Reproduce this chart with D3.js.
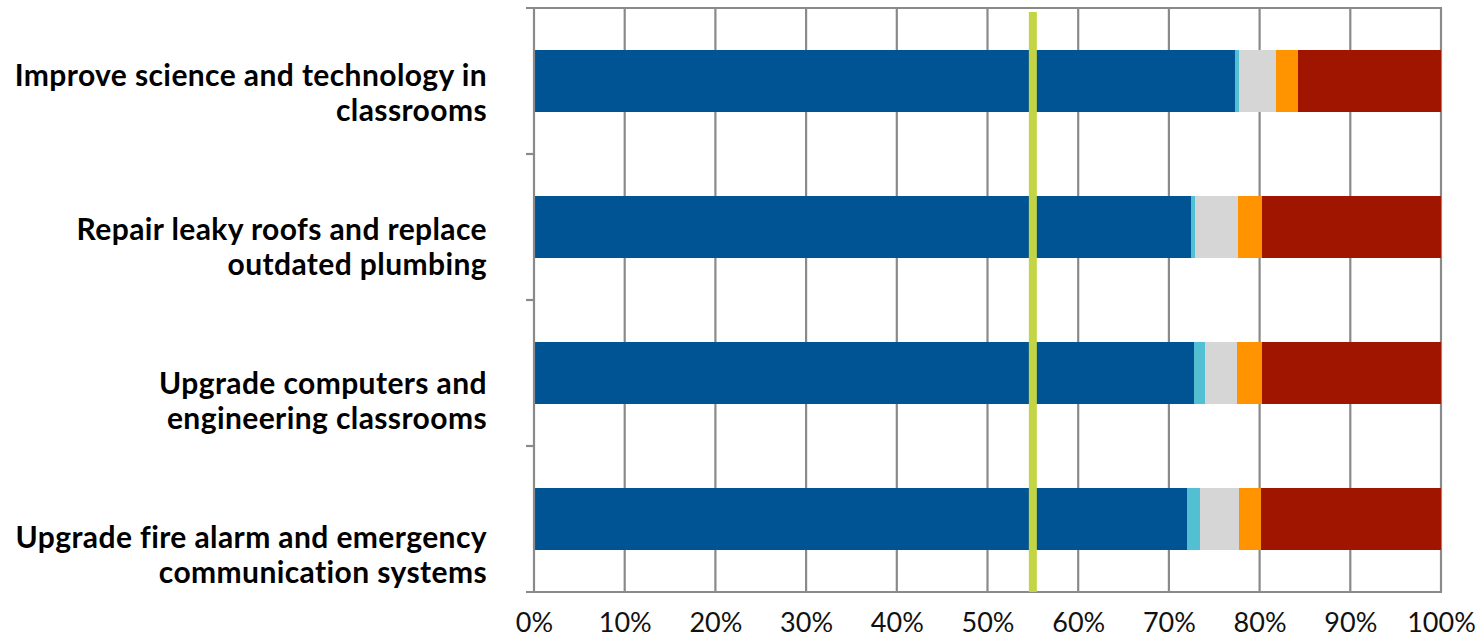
<!DOCTYPE html>
<html>
<head>
<meta charset="utf-8">
<script src="https://cdn.jsdelivr.net/npm/d3@7/dist/d3.min.js"></script>
<style>
html,body{margin:0;padding:0;background:#fff;}
svg{display:block;}
</style>
</head>
<body>
<svg id="chart" width="1479" height="638"></svg>
<script>
const categories = [
  ["Improve science and technology in", "classrooms"],
  ["Repair leaky roofs and replace", "outdated plumbing"],
  ["Upgrade computers and", "engineering classrooms"],
  ["Upgrade fire alarm and emergency", "communication systems"]
];
const seriesNames = ["s1", "s2", "s3", "s4", "s5"];
const s1 = [77.3, 72.4, 72.8, 72.0];
const s2 = [0.4, 0.5, 1.2, 1.4];
const s3 = [4.1, 4.7, 3.5, 4.3];
const s4 = [2.4, 2.7, 2.8, 2.5];
const s5 = [15.8, 19.7, 19.7, 19.8];
const colors = ["#005493", "#52c0d2", "#d6d6d6", "#ff9400", "#a01500"];
const xTicks = [0, 10, 20, 30, 40, 50, 60, 70, 80, 90, 100];
const referenceLine = 55;

(function () {
const svg = d3.select("#chart");
const L = 534, R = 1441, T = 8, B = 592;
const gridColor = "#8a8a8a";

const x = d3.scaleLinear().domain([0, 100]).range([L, R]);
const idx = d3.range(categories.length);
const y = d3.scaleBand().domain(idx).range([T, B]).paddingInner(0.57).paddingOuter(0.285);

const rows = idx.map(i => ({ i, s1: s1[i], s2: s2[i], s3: s3[i], s4: s4[i], s5: s5[i] }));
const stack = d3.stack().keys(seriesNames)(rows);

// gridlines
svg.append("g").selectAll("line").data(xTicks.filter(t => t > 0)).join("line")
  .attr("x1", d => x(d)).attr("x2", d => x(d))
  .attr("y1", T).attr("y2", B)
  .attr("stroke", gridColor).attr("stroke-width", 2.2);

// top border line
svg.append("line").attr("x1", L - 8).attr("x2", R + 1).attr("y1", T).attr("y2", T)
  .attr("stroke", gridColor).attr("stroke-width", 2.2);

// bars
svg.append("g").selectAll("g").data(stack).join("g")
  .attr("fill", (d, k) => colors[k])
  .selectAll("rect").data(d => d).join("rect")
  .attr("x", d => x(d[0]))
  .attr("width", d => x(d[1]) - x(d[0]))
  .attr("y", d => y(d.data.i))
  .attr("height", y.bandwidth())
  .attr("shape-rendering", "crispEdges");

// left axis with category-boundary ticks
const band = (B - T) / categories.length;
svg.append("line").attr("x1", L).attr("x2", L).attr("y1", T).attr("y2", B)
  .attr("stroke", gridColor).attr("stroke-width", 2.2);
svg.append("g").selectAll("line").data(d3.range(1, categories.length)).join("line")
  .attr("x1", L - 8).attr("x2", L)
  .attr("y1", d => T + d * band).attr("y2", d => T + d * band)
  .attr("stroke", gridColor).attr("stroke-width", 2.2);

// bottom axis
const xAxis = d3.axisBottom(x).tickValues(xTicks).tickFormat(d => d + "%").tickSize(0).tickPadding(21);
const gx = svg.append("g").attr("transform", `translate(0,${B})`).call(xAxis);
gx.select(".domain").remove();
svg.append("line").attr("x1", L - 8).attr("x2", R + 1).attr("y1", B).attr("y2", B)
  .attr("stroke", gridColor).attr("stroke-width", 2.2);
gx.selectAll("text").attr("font-family", "Lato, 'Open Sans', sans-serif").attr("font-size", 27)
  .attr("fill", "#111").attr("dy", "0.71em");

// reference line
svg.append("line").attr("x1", x(referenceLine)).attr("x2", x(referenceLine))
  .attr("y1", T + 4).attr("y2", B)
  .attr("stroke", "#c3d545").attr("stroke-width", 8);

// category labels
const ly = d3.scalePoint().domain(idx).range([90, 552]);
const lg = svg.append("g").selectAll("text").data(idx).join("text")
  .attr("x", 487)
  .attr("y", d => ly(d))
  .attr("text-anchor", "end")
  .attr("font-family", "Lato, 'Open Sans', sans-serif")
  .attr("font-weight", "bold")
  .attr("font-size", 30)
  .attr("letter-spacing", 0.4)
  .attr("fill", "#000");
lg.selectAll("tspan").data(d => categories[d]).join("tspan")
  .attr("x", 487)
  .attr("dy", (d, k) => k === 0 ? "-0.15em" : "1.17em")
  .text(d => d);
})();
</script>
</body>
</html>
